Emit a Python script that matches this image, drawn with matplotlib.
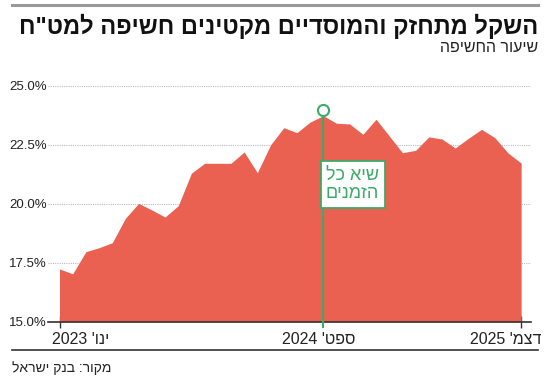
import re
import matplotlib
matplotlib.use("Agg")
import matplotlib.pyplot as plt
from matplotlib.lines import Line2D

# ---- data ----
values = [17.24, 17.03, 17.97, 18.14, 18.35, 19.39, 20.02, 19.74, 19.44, 19.92,
          21.30, 21.72, 21.72, 21.72, 22.20, 21.32, 22.50, 23.23, 23.02, 23.47,
          23.74, 23.42, 23.39, 22.95, 23.59, 22.88, 22.17, 22.27, 22.84, 22.75,
          22.37, 22.78, 23.16, 22.81, 22.16, 21.73]
months = list(range(len(values)))  # Jan 2023 .. Dec 2025
tick_idx = [0, 20, 35]
tick_labels = ["ינו' 2023", "ספט' 2024", "דצמ' 2025"]
y_ticks = [15.0, 17.5, 20.0, 22.5, 25.0]
peak_idx = 20
peak_marker_value = 24.0
title = 'השקל מתחזק והמוסדיים מקטינים חשיפה למט"ח'
subtitle = "שיעור החשיפה"
annot_lines = ["שיא כל", "הזמנים"]
source = "מקור: בנק ישראל"


def vis(s):
    """Convert logical-order Hebrew text to visual (LTR) order."""
    runs = re.findall(r"[0-9.,%]+|[^0-9.,%]+", s)
    return "".join(r if re.match(r"[0-9]", r) else r[::-1] for r in reversed(runs))


FONT = ["Liberation Sans", "DejaVu Sans"]
plt.rcParams["font.family"] = FONT

RED = "#EA6152"
GREEN = "#3DAA68"
TXT = "#222222"

W, H = 550, 385
fig = plt.figure(figsize=(W / 100, H / 100), dpi=100)


def fx(px):
    return px / W


def fy(py):
    return 1 - py / H


ax_left, ax_right = 48, 531
ax_top, ax_bot = 86, 321.7
ax = fig.add_axes([fx(ax_left), fy(ax_bot), fx(ax_right - ax_left), (ax_bot - ax_top) / H])

x0px, dx = 59.5, 13.19
ax.set_xlim((ax_left - x0px) / dx, (ax_right - x0px) / dx)
ax.set_ylim(15, 25)

ax.fill_between(months, values, 15, color=RED, lw=0, zorder=2)

for s in ["top", "right", "left"]:
    ax.spines[s].set_visible(False)
ax.spines["bottom"].set_color("#333333")
ax.spines["bottom"].set_linewidth(1.2)
ax.spines["bottom"].set_zorder(4)

ax.set_yticks(y_ticks)
ax.set_yticklabels([f"{v:.1f}%" for v in y_ticks], fontsize=9.5, color=TXT)
ax.tick_params(axis="y", length=0, pad=1)
ax.yaxis.grid(True, color="#BBBBBB", linestyle=(0, (1, 1)), linewidth=0.8, zorder=1)

ax.set_xticks([tick_idx[0], tick_idx[2]])
ax.set_xticklabels([])
ax.tick_params(axis="x", direction="inout", length=8, width=1, color="#333333")

# x labels
label_px = [(52, "left"), (319, "center"), (542, "right")]
for (px, ha), lab in zip(label_px, tick_labels):
    fig.text(fx(px), fy(339), vis(lab), ha=ha, va="center", fontsize=11.5, color=TXT)

# peak annotation
ax.plot([peak_idx, peak_idx], [peak_marker_value, 15], color=GREEN, lw=1.5, zorder=5)
ax.add_line(Line2D([peak_idx, peak_idx], [15, 14.78], color=GREEN, lw=1.5, clip_on=False, zorder=5))
ax.plot([peak_idx], [peak_marker_value], marker="o", ms=8, mfc="white", mec=GREEN, mew=1.5, zorder=6)
ax.text(20.2, 20.82, "\n".join(vis(l) for l in annot_lines), ha="left", va="center",
        fontsize=13, color=GREEN, zorder=7, linespacing=1.15,
        bbox=dict(boxstyle="square,pad=0.3", fc="white", ec=GREEN, lw=1.3))

# header / footer
fig.add_artist(Line2D([fx(12), fx(538)], [fy(5), fy(5)], color="#999999", lw=2.2))
fig.text(fx(538), fy(26), vis(title), ha="right", va="center", fontsize=17, fontweight="bold", color="#111111")
fig.text(fx(538), fy(47), vis(subtitle), ha="right", va="center", fontsize=11.5, color=TXT)
fig.add_artist(Line2D([fx(12), fx(538)], [fy(350), fy(350)], color="#333333", lw=1.2))
fig.text(fx(12), fy(368), vis(source), ha="left", va="center", fontsize=10, color=TXT)

fig.savefig("out.png", dpi=100)
